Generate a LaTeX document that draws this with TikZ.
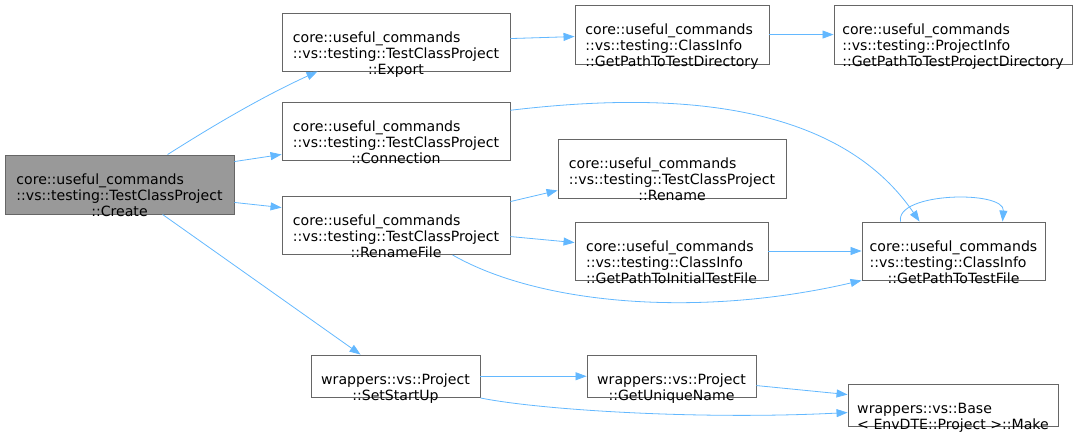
\documentclass[tikz,border=0pt]{standalone}
\usepackage{fontspec}
\setmainfont{DejaVu Sans}
\usetikzlibrary{arrows.meta,calc}
\definecolor{linkblue}{HTML}{63B8FF}
\definecolor{bord}{HTML}{666666}
\definecolor{rootfill}{HTML}{999999}
\newcommand{\tri}[3]{\begin{tabular}{@{}l@{}}#1\\#2\\\multicolumn{1}{@{}c@{}}{#3}\end{tabular}}
\newcommand{\duo}[2]{\begin{tabular}{@{}l@{}}#1\\\multicolumn{1}{@{}c@{}}{#2}\end{tabular}}
\tikzset{
  box/.style={draw=bord, line width=0.9pt, fill=white, inner sep=0pt, rectangle},
  rootbox/.style={box, fill=rootfill},
  lbl/.style={inner sep=0pt, font=\fontsize{14.1}{16}\selectfont, text=black},
  conn/.style={draw=linkblue, line width=0.8pt, -{Triangle[length=11pt,width=8pt]}}
}
\begin{document}
\begin{tikzpicture}[x=1pt,y=-1pt]
\useasboundingbox (0,0) rectangle (1078,432);
% boxes
\node[rootbox, minimum width=229pt, minimum height=59pt] (create) at (119.5,184.5) {};
\node[box, minimum width=228pt, minimum height=58pt] (export) at (396,42) {};
\node[box, minimum width=228pt, minimum height=58pt] (connection) at (396,131) {};
\node[box, minimum width=228pt, minimum height=58pt] (renamefile) at (396,225.5) {};
\node[box, minimum width=228pt, minimum height=59pt] (rename) at (672,168.5) {};
\node[box, minimum width=194pt, minimum height=59pt] (testdir) at (672,34.5) {};
\node[box, minimum width=238pt, minimum height=59pt] (projdir) at (953,34.5) {};
\node[box, minimum width=193pt, minimum height=58pt] (initial) at (671.5,251) {};
\node[box, minimum width=183pt, minimum height=58pt] (testfile) at (953.5,251) {};
\node[box, minimum width=169pt, minimum height=42.5pt] (setstartup) at (395.5,376.25) {};
\node[box, minimum width=169pt, minimum height=42.5pt] (unique) at (671.5,376.25) {};
\node[box, minimum width=210pt, minimum height=42pt] (base) at (953,405) {};
% labels
\node[lbl] (create-t) at ([yshift=-12.8pt]create.center) {\tri{core::useful\_commands}{::vs::testing::TestClassProject}{::Create}};
\node[lbl] (export-t) at ([yshift=-12.8pt]export.center) {\tri{core::useful\_commands}{::vs::testing::TestClassProject}{::Export}};
\node[lbl] (connection-t) at ([yshift=-12.8pt]connection.center) {\tri{core::useful\_commands}{::vs::testing::TestClassProject}{::Connection}};
\node[lbl] (renamefile-t) at ([yshift=-12.8pt]renamefile.center) {\tri{core::useful\_commands}{::vs::testing::TestClassProject}{::RenameFile}};
\node[lbl] (rename-t) at ([yshift=-12.8pt]rename.center) {\tri{core::useful\_commands}{::vs::testing::TestClassProject}{::Rename}};
\node[lbl] (testdir-t) at ([yshift=-12.8pt]testdir.center) {\tri{core::useful\_commands}{::vs::testing::ClassInfo}{::GetPathToTestDirectory}};
\node[lbl] (projdir-t) at ([yshift=-12.8pt]projdir.center) {\tri{core::useful\_commands}{::vs::testing::ProjectInfo}{::GetPathToTestProjectDirectory}};
\node[lbl] (initial-t) at ([yshift=-12.8pt]initial.center) {\tri{core::useful\_commands}{::vs::testing::ClassInfo}{::GetPathToInitialTestFile}};
\node[lbl] (testfile-t) at ([yshift=-12.8pt]testfile.center) {\tri{core::useful\_commands}{::vs::testing::ClassInfo}{::GetPathToTestFile}};
\node[lbl] (setstartup-t) at ([yshift=-12.9pt]setstartup.center) {\duo{wrappers::vs::Project}{::SetStartUp}};
\node[lbl] (unique-t) at ([yshift=-12.9pt]unique.center) {\duo{wrappers::vs::Project}{::GetUniqueName}};
\node[lbl] (base-t) at ([yshift=-12.9pt]base.center) {\duo{wrappers::vs::Base}{< EnvDTE::Project >::Make}};
% connectors
\draw[conn] ($(create.north west)+(163,0)$) .. controls (200,134) and (255,100) .. ($(export.south west)+(36,0)$);
\draw[conn] ($(create.north east)+(0,7)$) -- ($(connection.south west)+(0,-6)$);
\draw[conn] ($(create.south east)+(0,-12)$) -- ($(renamefile.north west)+(0,11.5)$);
\draw[conn] ($(create.south west)+(158,0)$) -- ($(setstartup.north west)+(50,0)$);
\draw[conn] ($(export.north east)+(0,26)$) -- ($(testdir.north west)+(0,32)$);
\draw[conn] ($(testdir.north east)+(0,30)$) -- ($(projdir.north west)+(0,30)$);
\draw[conn] ($(connection.north east)+(0,8.7)$) .. controls (640,95) and (830,90) .. ($(testfile.north west)+(58,0)$);
\draw[conn] ($(renamefile.north east)+(0,5.5)$) -- ($(rename.south west)+(0,-8)$);
\draw[conn] ($(renamefile.north east)+(0,40.5)$) -- ($(initial.north west)+(0,21)$);
\draw[conn] ($(renamefile.south west)+(171,0)$) .. controls (540,305) and (700,318) .. (testfile.south west);
\draw[conn] (initial.east) -- (testfile.west);
\draw[conn] ($(testfile.north west)+(39,0)$) .. controls (895,192) and (1005,190) .. ($(testfile.north west)+(141,0)$);
\draw[conn] (setstartup.east) -- (unique.west);
\draw[conn] ($(unique.north east)+(0,31)$) -- ($(base.north west)+(0,11)$);
\draw[conn] (setstartup.south east) .. controls (540,410) and (700,420) .. ($(base.north west)+(0,29)$);
\end{tikzpicture}
\end{document}
